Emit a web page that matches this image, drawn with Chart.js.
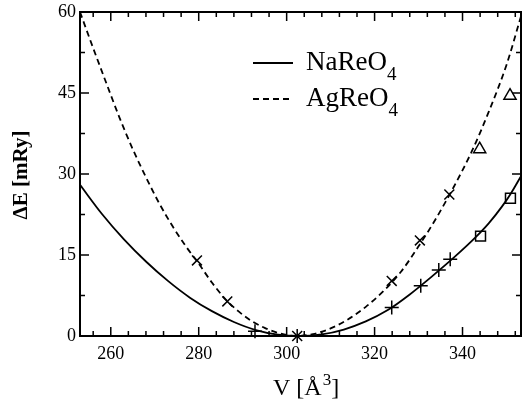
<!DOCTYPE html>
<html>
<head>
<meta charset="utf-8">
<script src="https://cdn.jsdelivr.net/npm/chart.js@4.4.0/dist/chart.umd.min.js"></script>
<style>
  html, body { margin: 0; padding: 0; background: #fff; }
  #wrap { width: 522px; height: 405px; }
</style>
</head>
<body>
<div id="wrap"><canvas id="eos"></canvas></div>
<script>
// fitted curves
const naV = [253, 258, 263, 268, 273, 278, 283, 288, 293, 298, 303, 308, 313, 318, 323, 328, 333, 338, 343, 346, 349, 351, 353.3];
const naE = [28.0, 22.6, 17.9, 13.8, 10.2, 7.1, 4.6, 2.6, 1.1, 0.25, 0, 0.3, 1.2, 2.7, 4.8, 7.7, 11.0, 14.5, 18.3, 20.9, 24.0, 26.4, 29.6];
const agV = [253, 256, 259, 262, 265, 268, 271, 274, 277, 280, 283, 286, 289, 292, 295, 298, 302, 306, 310, 314, 318, 322, 326, 330, 334, 338, 342, 346, 350, 353.3];
const agE = [60, 53.3, 46.8, 40.4, 34.6, 29.4, 24.6, 20.4, 16.7, 13.4, 9.9, 6.9, 4.6, 2.8, 1.5, 0.6, 0, 0.35, 1.4, 3.1, 5.4, 8.3, 11.9, 16.6, 21.8, 27.6, 34.0, 41.6, 50.2, 59.2];

// calculated points
const agCrossV = [279.6, 286.5, 302.4, 323.9, 330.3, 337.0];
const agCrossE = [14.0, 6.4, 0, 10.2, 17.7, 26.2];
const naPlusV = [292.8, 302.4, 323.9, 330.5, 334.6, 337.2];
const naPlusE = [0.9, 0, 5.3, 9.3, 12.2, 14.2];
const sqV = [344.1, 350.9];
const sqE = [18.5, 25.5];
const triV = [343.9, 350.8];
const triE = [34.6, 44.5];

// ticks
const xTicks = [260, 280, 300, 320, 340];
const yTicks = [0, 15, 30, 45, 60];
const xMinor = [256, 264, 268, 272, 276, 284, 288, 292, 296, 304, 308, 312, 316, 324, 328, 332, 336, 344, 348, 352];
const yMinor = [7.5, 22.5, 37.5, 52.5];

const SERIF = '"Liberation Serif", "DejaVu Serif", serif';

function pts(xs, ys) {
  return xs.map((x, i) => ({ x: x, y: ys[i] }));
}

// frame, inward ticks, legend with subscripts, axis titles
const decor = {
  id: 'decor',
  afterDraw(chart) {
    const ctx = chart.ctx;
    const a = chart.chartArea;
    const sx = chart.scales.x, sy = chart.scales.y;
    ctx.save();
    ctx.strokeStyle = '#000';
    ctx.lineWidth = 2;
    ctx.strokeRect(a.left, a.top, a.right - a.left, a.bottom - a.top);

    ctx.lineWidth = 1.5;
    ctx.beginPath();
    function xt(v, len) {
      const p = sx.getPixelForValue(v);
      ctx.moveTo(p, a.bottom); ctx.lineTo(p, a.bottom - len);
      ctx.moveTo(p, a.top); ctx.lineTo(p, a.top + len);
    }
    function yt(v, len) {
      const p = sy.getPixelForValue(v);
      ctx.moveTo(a.left, p); ctx.lineTo(a.left + len, p);
      ctx.moveTo(a.right, p); ctx.lineTo(a.right - len, p);
    }
    xTicks.forEach(v => xt(v, 9));
    xMinor.forEach(v => xt(v, 5));
    yTicks.forEach(v => yt(v, 9));
    yMinor.forEach(v => yt(v, 5));
    ctx.stroke();

    // legend
    ctx.lineWidth = 1.8;
    ctx.beginPath();
    ctx.moveTo(253, 63); ctx.lineTo(293, 63);
    ctx.stroke();
    ctx.setLineDash([6, 4]);
    ctx.beginPath();
    ctx.moveTo(253, 99); ctx.lineTo(293, 99);
    ctx.stroke();
    ctx.setLineDash([]);

    ctx.fillStyle = '#000';
    ctx.textBaseline = 'alphabetic';
    ctx.textAlign = 'left';
    function sub(txt, s, x, y) {
      ctx.font = '27px ' + SERIF;
      ctx.fillText(txt, x, y);
      const w = ctx.measureText(txt).width;
      ctx.font = '19px ' + SERIF;
      ctx.fillText(s, x + w, y + 10);
    }
    sub('NaReO', '4', 306, 70);
    sub('AgReO', '4', 306, 106);

    // x title
    ctx.font = '24px ' + SERIF;
    let x = 273;
    ctx.fillText('V [Å', x, 395);
    x += ctx.measureText('V [Å').width;
    ctx.font = '17px ' + SERIF;
    ctx.fillText('3', x + 1, 385);
    x += ctx.measureText('3').width + 1;
    ctx.font = '24px ' + SERIF;
    ctx.fillText(']', x, 395);

    // y title
    ctx.translate(22, 175);
    ctx.rotate(-Math.PI / 2);
    ctx.textAlign = 'center';
    ctx.textBaseline = 'middle';
    ctx.font = 'bold 21px ' + SERIF;
    ctx.fillText('ΔE [mRy]', 0, 0);
    ctx.restore();
  }
};

const markBase = {
  type: 'scatter',
  showLine: false,
  borderColor: '#000',
  backgroundColor: 'rgba(0,0,0,0)',
  borderWidth: 1.5,
  clip: false
};

new Chart(document.getElementById('eos'), {
  type: 'scatter',
  data: {
    datasets: [
      {
        type: 'line', label: 'NaReO4', data: pts(naV, naE),
        borderColor: '#000', borderWidth: 1.8, pointRadius: 0,
        cubicInterpolationMode: 'monotone', fill: false
      },
      {
        type: 'line', label: 'AgReO4', data: pts(agV, agE),
        borderColor: '#000', borderWidth: 1.8, borderDash: [6, 4], pointRadius: 0,
        cubicInterpolationMode: 'monotone', fill: false
      },
      Object.assign({}, markBase, { label: 'Ag x', data: pts(agCrossV, agCrossE), pointStyle: 'crossRot', pointRadius: 7 }),
      Object.assign({}, markBase, { label: 'Na +', data: pts(naPlusV, naPlusE), pointStyle: 'cross', pointRadius: 7 }),
      Object.assign({}, markBase, { label: 'sq', data: pts(sqV, sqE), pointStyle: 'rect', pointRadius: 7 }),
      Object.assign({}, markBase, { label: 'tri', data: pts(triV, triE), pointStyle: 'triangle', pointRadius: 7 })
    ]
  },
  options: {
    responsive: true,
    maintainAspectRatio: false,
    animation: false,
    events: [],
    layout: { autoPadding: false, padding: { top: 12, right: 1, left: 0, bottom: 0 } },
    plugins: { legend: { display: false }, tooltip: { enabled: false }, title: { display: false } },
    scales: {
      x: {
        type: 'linear', min: 253, max: 353.3,
        grid: { display: false, drawTicks: false },
        border: { display: false },
        afterBuildTicks: s => { s.ticks = xTicks.map(v => ({ value: v })); },
        afterFit: s => { s.height = 69; s.paddingLeft = 0; s.paddingRight = 0; },
        ticks: { color: '#000', padding: 7, maxRotation: 0, font: { family: SERIF, size: 18 } }
      },
      y: {
        type: 'linear', min: 0, max: 60,
        grid: { display: false, drawTicks: false },
        border: { display: false },
        afterBuildTicks: s => { s.ticks = yTicks.map(v => ({ value: v })); },
        afterFit: s => { s.width = 80; s.paddingTop = 0; s.paddingBottom = 0; },
        ticks: { color: '#000', padding: 4, font: { family: SERIF, size: 18 } }
      }
    }
  },
  plugins: [decor]
});
</script>
</body>
</html>
